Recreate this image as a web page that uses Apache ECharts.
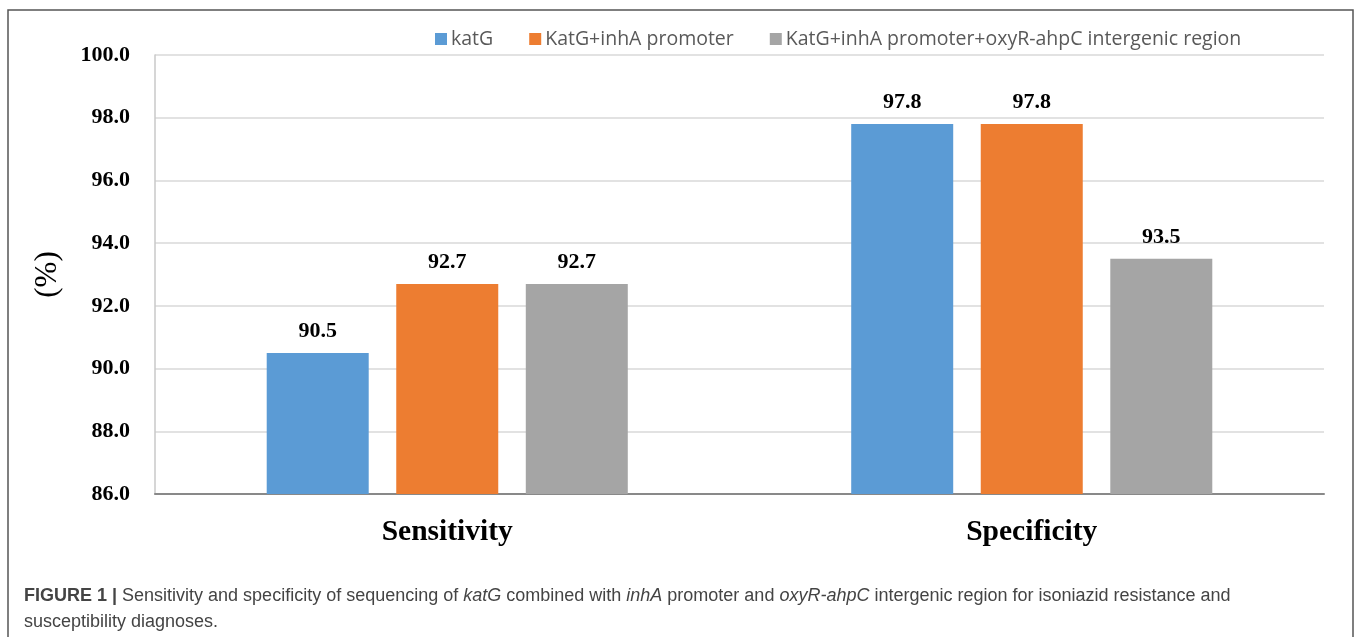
<!DOCTYPE html>
<html>
<head>
<meta charset="utf-8">
<title>Sensitivity and specificity of katG sequencing</title>
<script src="https://cdn.jsdelivr.net/npm/echarts@6/dist/echarts.min.js"></script>
<style>
  html, body { margin: 0; padding: 0; background: #fff; }
  #chart { width: 1357px; height: 637px; }
</style>
</head>
<body>
<div id="chart"></div>
<script>
// Measures and targets
const categories = ['Sensitivity', 'Specificity'];
const seriesNames = [
  'katG',
  'KatG+inhA promoter',
  'KatG+inhA promoter+oxyR-ahpC intergenic region'
];
const katG = [90.5, 97.8];
const katGInhA = [92.7, 97.8];
const katGInhAOxyR = [92.7, 93.5];
const yTicks = { min: 86, max: 100, step: 2 };

const colors = ['#5B9BD5', '#ED7D31', '#A5A5A5'];
const serif = '"Liberation Serif", "Times New Roman", serif';
const sans = '"Open Sans", "Noto Sans", sans-serif';
const captionFont = '"Liberation Sans", Arial, sans-serif';

const chart = echarts.init(document.getElementById('chart'));

function barSeries(name, data, color) {
  return {
    name: name,
    type: 'bar',
    data: data,
    barWidth: 102,
    barGap: '27%',
    itemStyle: { color: color },
    label: {
      show: true,
      position: 'top',
      distance: 11,
      formatter: p => p.value.toFixed(1),
      fontFamily: serif,
      fontWeight: 'bold',
      fontSize: 22,
      color: '#000'
    }
  };
}

chart.setOption({
  animation: false,
  backgroundColor: '#fff',
  legend: {
    left: 430,
    top: 24,
    itemWidth: 12,
    itemHeight: 12,
    itemGap: 36,
    icon: 'rect',
    data: seriesNames,
    textStyle: { fontFamily: sans, fontSize: 19.5, color: '#595959', padding: [0, 0, 0, -1] }
  },
  grid: { left: 155, right: 33, top: 55, bottom: 143 },
  xAxis: {
    type: 'category',
    data: categories,
    axisTick: { show: false },
    axisLine: { lineStyle: { color: '#898989', width: 2 } },
    axisLabel: {
      margin: 23,
      fontFamily: serif,
      fontWeight: 'bold',
      fontSize: 29.5,
      color: '#000'
    }
  },
  yAxis: {
    type: 'value',
    min: yTicks.min,
    max: yTicks.max,
    interval: yTicks.step,
    name: '(%)',
    nameLocation: 'middle',
    nameRotate: 90,
    nameGap: 92,
    nameTextStyle: { fontFamily: serif, fontSize: 31, color: '#000' },
    axisLine: { show: true, lineStyle: { color: '#c8c8c8', width: 1.5 } },
    axisTick: { show: false },
    axisLabel: {
      margin: 25,
      formatter: v => v.toFixed(1),
      fontFamily: serif,
      fontWeight: 'bold',
      fontSize: 22,
      color: '#000'
    },
    splitLine: { lineStyle: { color: '#d9d9d9', width: 1.5 } }
  },
  series: [
    barSeries(seriesNames[0], katG, colors[0]),
    barSeries(seriesNames[1], katGInhA, colors[1]),
    barSeries(seriesNames[2], katGInhAOxyR, colors[2])
  ],
  graphic: [
    {
      type: 'rect',
      shape: { x: 8, y: 10, width: 1345, height: 660 },
      style: { fill: 'none', stroke: '#555', lineWidth: 1.5 },
      silent: true
    },
    {
      type: 'text',
      left: 24,
      top: 583,
      style: {
        text: '{b|FIGURE 1 |} Sensitivity and specificity of sequencing of {i|katG} combined with {i|inhA} promoter and {i|oxyR-ahpC} intergenic region for isoniazid resistance and\nsusceptibility diagnoses.',
        fontFamily: captionFont,
        fontSize: 18,
        lineHeight: 26,
        fill: '#444',
        rich: {
          b: { fontFamily: captionFont, fontSize: 18, fontWeight: 'bold', fill: '#444', lineHeight: 26 },
          i: { fontFamily: captionFont, fontSize: 18, fontStyle: 'italic', fill: '#444', lineHeight: 26 }
        }
      }
    }
  ]
});
</script>
</body>
</html>
